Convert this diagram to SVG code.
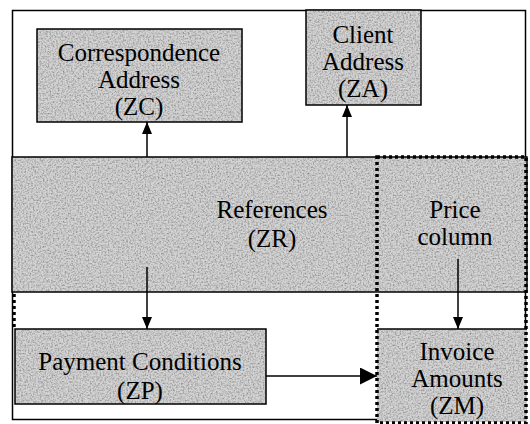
<svg xmlns="http://www.w3.org/2000/svg" width="530" height="424" viewBox="0 0 530 424">
<style>
  .box { fill: #d4d4d4; stroke: none; }
  .edge { fill: none; stroke: #000; stroke-width: 1.5; }
  .lbl { font-family: "Liberation Serif", Tinos, "Times New Roman", Times, "Noto Serif", "DejaVu Serif", FreeSerif, serif; font-size: 25px; fill: #000; text-anchor: middle; }
  .conn { stroke: #000; stroke-width: 1.5; fill: none; }
  .dots { fill: none; stroke: #000; stroke-width: 3.5; stroke-dasharray: 3 3; }
</style>
<defs>
  <filter id="grain" x="0" y="0" width="1" height="1">
    <feTurbulence type="fractalNoise" baseFrequency="0.6" numOctaves="3" seed="7" result="t"/>
    <feColorMatrix in="t" type="matrix" values="0 0 0 0 0  0 0 0 0 0  0 0 0 0 0  0 0 0 1.2 -0.45" result="a"/>
    <feComposite in="a" in2="SourceGraphic" operator="in" result="d"/>
    <feMerge><feMergeNode in="SourceGraphic"/><feMergeNode in="d"/></feMerge>
  </filter>
  <marker id="ah" viewBox="0 0 12 10" refX="12" refY="5" markerWidth="12" markerHeight="10" markerUnits="userSpaceOnUse" orient="auto">
    <path d="M0,0 L12,5 L0,10 Z" fill="#000"/>
  </marker>
  <marker id="ahb" viewBox="0 0 17 17" refX="17" refY="8.5" markerWidth="17" markerHeight="17" markerUnits="userSpaceOnUse" orient="auto">
    <path d="M0,0 L17,8.5 L0,17 Z" fill="#000"/>
  </marker>
</defs>
<rect width="530" height="424" fill="#fff"/>
<rect id="frame" class="edge" x="12.5" y="10.5" width="513" height="409"/>

<g id="references">
  <rect class="box" x="12" y="157" width="515" height="135" filter="url(#grain)"/>
  <rect class="edge" x="12" y="157" width="515" height="135"/>
  <text class="lbl" x="272" y="218">References</text>
  <text class="lbl" x="272" y="247">(ZR)</text>
</g>
<g id="correspondence">
  <rect class="box" x="37" y="29" width="205" height="93" filter="url(#grain)"/>
  <rect class="edge" x="37" y="29" width="205" height="93"/>
  <text class="lbl" x="139" y="61">Correspondence</text>
  <text class="lbl" x="139" y="88">Address</text>
  <text class="lbl" x="139" y="115">(ZC)</text>
</g>
<g id="client">
  <rect class="box" x="306" y="10" width="115" height="95" filter="url(#grain)"/>
  <rect class="edge" x="306" y="10" width="115" height="95"/>
  <text class="lbl" x="363" y="43">Client</text>
  <text class="lbl" x="363" y="70">Address</text>
  <text class="lbl" x="363" y="97">(ZA)</text>
</g>
<g id="payment">
  <rect class="box" x="15" y="329" width="251" height="75" filter="url(#grain)"/>
  <rect class="edge" x="15" y="329" width="251" height="75"/>
  <text class="lbl" x="140" y="370">Payment Conditions</text>
  <text class="lbl" x="140" y="399">(ZP)</text>
</g>
<g id="invoice">
  <rect class="box" x="377" y="329" width="150" height="93" filter="url(#grain)"/>
  <line x1="377" y1="329" x2="527" y2="329" stroke="#000" stroke-width="1.5"/>
  <text class="lbl" x="457" y="360">Invoice</text>
  <text class="lbl" x="457" y="387">Amounts</text>
  <text class="lbl" x="457" y="414">(ZM)</text>
</g>
<g id="price">
  <text class="lbl" x="455" y="218">Price</text>
  <text class="lbl" x="455" y="245">column</text>
  <rect class="dots" x="377" y="157" width="149" height="266"/>
  <line class="dots" x1="14" y1="294" x2="14" y2="329"/>
</g>

<g id="connectors">
  <line class="conn" x1="147" y1="157" x2="147" y2="122" marker-end="url(#ah)"/>
  <line class="conn" x1="347" y1="157" x2="347" y2="105" marker-end="url(#ah)"/>
  <line class="conn" x1="147" y1="267" x2="147" y2="329" marker-end="url(#ah)"/>
  <line class="conn" x1="458" y1="259" x2="458" y2="329" marker-end="url(#ah)"/>
  <line class="conn" x1="266" y1="376" x2="377" y2="376" marker-end="url(#ahb)"/>
</g>
</svg>
